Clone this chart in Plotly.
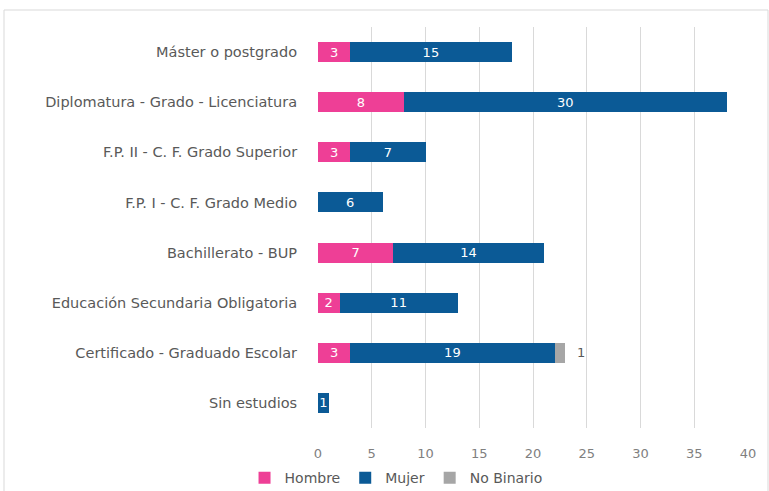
import plotly.graph_objects as go

categories = [
    "Máster o postgrado",
    "Diplomatura - Grado - Licenciatura",
    "F.P. II - C. F. Grado Superior",
    "F.P. I - C. F. Grado Medio",
    "Bachillerato - BUP",
    "Educación Secundaria Obligatoria",
    "Certificado - Graduado Escolar",
    "Sin estudios",
]
hombre = [3, 8, 3, 0, 7, 2, 3, 0]
mujer = [15, 30, 7, 6, 14, 11, 19, 1]
no_binario = [0, 0, 0, 0, 0, 0, 1, 0]
x_ticks = [0, 5, 10, 15, 20, 25, 30, 35, 40]

FONT = "'DejaVu Sans', sans-serif"
TXT = "#595959"
TICK = "#808080"

def lbl(vals):
    return [str(v) if v else "" for v in vals]

fig = go.Figure()
fig.add_trace(go.Bar(
    y=categories, x=hombre, name="Hombre", orientation="h",
    marker=dict(color="#EE3F96", line=dict(width=0)),
    text=lbl(hombre), textposition="inside", insidetextanchor="middle",
    textangle=0, constraintext="none",
    textfont=dict(color="white", size=13, family=FONT),
))
fig.add_trace(go.Bar(
    y=categories, x=mujer, name="Mujer", orientation="h",
    marker=dict(color="#0B5A96", line=dict(width=0)),
    text=lbl(mujer), textposition="inside", insidetextanchor="middle",
    textangle=0, constraintext="none",
    textfont=dict(color="white", size=13, family=FONT),
))
fig.add_trace(go.Bar(
    y=categories, x=no_binario, name="No Binario", orientation="h",
    marker=dict(color="#A6A6A6", line=dict(width=0)),
))

# outside label for No Binario
for c, h, m, n in zip(categories, hombre, mujer, no_binario):
    if n:
        fig.add_annotation(x=h + m + n, y=c, text=str(n), showarrow=False,
                           xanchor="left", xshift=10,
                           font=dict(color=TXT, size=13, family=FONT))

fig.update_layout(
    width=769, height=491,
    barmode="stack", bargap=0.6,
    paper_bgcolor="white", plot_bgcolor="white",
    margin=dict(l=318, r=21, t=27, b=63, autoexpand=False),
    font=dict(family=FONT, color=TXT, size=13),
    uniformtext=dict(mode=False),
    xaxis=dict(range=[0, 40], tickvals=x_ticks, showgrid=True,
               gridcolor="#D9D9D9", gridwidth=1, zeroline=False,
               showline=False, ticks="outside", ticklen=13,
               tickcolor="rgba(0,0,0,0)", automargin=False,
               tickfont=dict(size=13, color=TICK)),
    yaxis=dict(categoryorder="array", categoryarray=categories[::-1],
               showgrid=False, zeroline=False, showline=False,
               ticks="outside", ticklen=17, tickcolor="rgba(0,0,0,0)",
               automargin=False,
               tickfont=dict(size=14.5, color=TXT)),
    legend=dict(orientation="h", xref="container", x=0.515, xanchor="center",
                yref="container", y=0.026, yanchor="middle",
                font=dict(size=14, color=TXT), traceorder="normal",
                itemwidth=30),
    showlegend=True,
    shapes=[dict(type="rect", xref="paper", yref="paper",
                 x0=(4 - 318) / 430, x1=(768 - 318) / 430,
                 y0=(428 - 492) / 401, y1=(428 - 10) / 401,
                 line=dict(color="#D9D9D9", width=1), layer="below")],
)

fig.write_html("out.html", config={"displayModeBar": False},
               post_script="document.body.style.margin='0';")
